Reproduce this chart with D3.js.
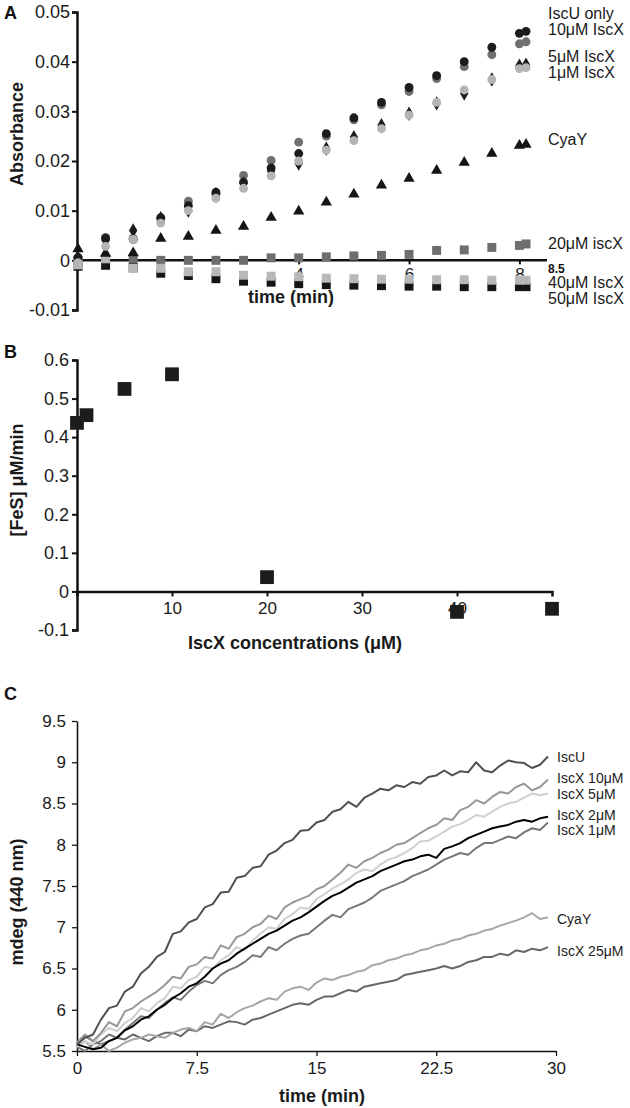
<!DOCTYPE html>
<html><head><meta charset="utf-8">
<script src="https://cdn.jsdelivr.net/npm/d3@7"></script>
<style>
body{margin:0;background:#fff;}
svg{display:block;font-family:"Liberation Sans",Arial,Helvetica,sans-serif;}
</style></head><body><svg id="c" width="630" height="1108"></svg>
<script>
// ---------- Panel A data ----------
const timeA = [0,0.5,1,1.5,2,2.5,3,3.5,4,4.5,5,5.5,6,6.5,7,7.5,8,8.12];
const aIscU  = [0.0006,0.0044,0.0042,0.0086,0.0110,0.0137,0.0157,0.0186,0.0215,0.0255,0.0287,0.0318,0.0348,0.0372,0.0400,0.0429,0.0457,0.0461];
const aX10   = [0.0005,0.0046,0.0044,0.0083,0.0119,0.0133,0.0171,0.0201,0.0238,0.0250,0.0283,0.0313,0.0340,0.0366,0.0390,0.0414,0.0436,0.0440];
const aX5    = [0.0005,0.0040,0.0060,0.0085,0.0100,0.0133,0.0155,0.0180,0.0195,0.0225,0.0248,0.0272,0.0295,0.0316,0.0336,0.0364,0.0392,0.0394];
const aX1    = [-0.0005,0.0028,0.0042,0.0075,0.0100,0.0125,0.0145,0.0170,0.0200,0.0222,0.0241,0.0265,0.0292,0.0318,0.0343,0.0364,0.0386,0.0388];
const aCyaY  = [0.0023,0.0014,0.0015,0.0044,0.0048,0.0060,0.0068,0.0086,0.0099,0.0117,0.0133,0.0151,0.0165,0.0181,0.0197,0.0215,0.0231,0.0233];
const aX20   = [0.0000,0.0002,0.0000,0.0000,0.0000,0.0000,0.0000,0.0005,0.0005,0.0007,0.0009,0.0010,0.0012,0.0020,0.0021,0.0026,0.0030,0.0033];
const aX40   = [-0.0009,0.0003,-0.0016,-0.0016,-0.0023,-0.0023,-0.0030,-0.0032,-0.0033,-0.0036,-0.0037,-0.0038,-0.0038,-0.0039,-0.0039,-0.0040,-0.0040,-0.0040];
const aX50   = [-0.0012,-0.0010,-0.0015,-0.0026,-0.0030,-0.0037,-0.0042,-0.0044,-0.0047,-0.0049,-0.0050,-0.0051,-0.0052,-0.0052,-0.0053,-0.0053,-0.0053,-0.0053];
const ticksAy = [-0.01,0,0.01,0.02,0.03,0.04,0.05];
const ticksAx = [2,4,6,8];

// ---------- Panel B data ----------
const concB = [0,1,5,10,20,40,50];
const rateB = [0.437,0.457,0.525,0.563,0.037,-0.053,-0.045];
const ticksBy = [-0.1,0,0.1,0.2,0.3,0.4,0.5,0.6];
const ticksBx = [10,20,30,40];

// ---------- Panel C data ----------
const timeC = [0,0.5,1,1.5,2,2.5,3,3.5,4,4.5,5,5.5,6,6.5,7,7.5,8,8.5,9,9.5,10,10.5,11,11.5,12,12.5,13,13.5,14,14.5,15,15.5,16,16.5,17,17.5,18,18.5,19,19.5,20,20.5,21,21.5,22,22.5,23,23.5,24,24.5,25,25.5,26,26.5,27,27.5,28,28.5,29,29.5];
const cIscU = [5.58,5.66,5.70,5.88,6.02,6.05,6.22,6.28,6.44,6.52,6.64,6.70,6.92,6.95,7.06,7.10,7.24,7.28,7.42,7.43,7.60,7.62,7.72,7.74,7.88,7.93,8.02,8.06,8.17,8.18,8.27,8.30,8.40,8.43,8.52,8.46,8.57,8.62,8.68,8.66,8.72,8.70,8.76,8.74,8.82,8.84,8.90,8.84,8.89,8.88,9.00,8.90,8.88,8.96,9.02,9.00,8.99,8.93,8.97,9.07];
const cX10  = [5.60,5.70,5.62,5.72,5.85,5.80,5.98,6.02,6.10,6.16,6.22,6.30,6.40,6.38,6.52,6.55,6.64,6.62,6.78,6.74,6.88,6.92,7.00,7.04,7.14,7.10,7.24,7.30,7.34,7.38,7.46,7.50,7.58,7.66,7.76,7.72,7.80,7.84,7.90,7.94,8.00,8.02,8.08,8.14,8.20,8.24,8.32,8.30,8.42,8.46,8.54,8.50,8.58,8.64,8.62,8.70,8.74,8.66,8.70,8.79];
const cX5   = [5.55,5.62,5.58,5.70,5.78,5.74,5.84,5.90,6.02,5.98,6.08,6.14,6.28,6.26,6.36,6.40,6.52,6.50,6.60,6.66,6.76,6.72,6.84,6.92,7.00,6.98,7.10,7.16,7.24,7.22,7.34,7.40,7.47,7.52,7.58,7.66,7.70,7.68,7.76,7.82,7.85,7.90,7.96,8.04,8.05,8.10,8.16,8.22,8.25,8.30,8.36,8.34,8.40,8.46,8.50,8.52,8.57,8.62,8.60,8.62];
const cX2   = [5.58,5.55,5.52,5.54,5.62,5.66,5.75,5.80,5.88,5.92,6.00,6.06,6.14,6.20,6.28,6.32,6.40,6.50,6.56,6.60,6.68,6.74,6.80,6.86,6.92,6.96,7.02,7.08,7.12,7.18,7.25,7.32,7.38,7.42,7.48,7.54,7.58,7.62,7.68,7.72,7.76,7.80,7.82,7.86,7.88,7.84,7.95,7.98,8.02,8.08,8.12,8.16,8.20,8.22,8.24,8.28,8.30,8.28,8.32,8.34];
const cX1   = [5.55,5.50,5.58,5.62,5.70,5.66,5.76,5.84,5.92,5.90,6.00,6.08,6.15,6.12,6.22,6.30,6.35,6.32,6.42,6.48,6.52,6.58,6.66,6.64,6.76,6.72,6.80,6.86,6.90,6.92,7.00,7.08,7.15,7.12,7.22,7.26,7.30,7.36,7.44,7.48,7.52,7.56,7.62,7.66,7.70,7.76,7.82,7.86,7.90,7.88,7.96,8.02,8.02,8.06,8.10,8.08,8.15,8.20,8.18,8.27];
const cCyaY = [5.55,5.62,5.52,5.58,5.50,5.54,5.60,5.64,5.66,5.70,5.68,5.66,5.72,5.76,5.78,5.74,5.85,5.82,5.95,5.90,5.97,6.02,6.05,6.10,6.14,6.12,6.22,6.26,6.28,6.24,6.33,6.38,6.36,6.40,6.42,6.46,6.48,6.54,6.56,6.60,6.62,6.66,6.68,6.72,6.74,6.78,6.80,6.84,6.86,6.90,6.92,6.96,6.98,7.02,7.05,7.08,7.12,7.17,7.10,7.12];
const cX25  = [5.60,5.68,5.62,5.58,5.62,5.66,5.64,5.70,5.66,5.62,5.68,5.72,5.72,5.68,5.76,5.74,5.80,5.78,5.82,5.86,5.85,5.82,5.88,5.90,5.94,5.98,6.02,6.06,6.08,6.06,6.12,6.16,6.16,6.20,6.24,6.22,6.28,6.30,6.32,6.34,6.36,6.42,6.44,6.46,6.48,6.50,6.53,6.50,6.53,6.58,6.60,6.64,6.64,6.68,6.66,6.72,6.70,6.74,6.72,6.76];
const ticksCy = [5.5,6,6.5,7,7.5,8,8.5,9,9.5];
const ticksCx = [0,7.5,15,22.5,30];

// ---------- drawing ----------
const svg = d3.select("#c");
const fmt = d => String(+(+d).toFixed(2));
const FF = '"Liberation Sans",Arial,sans-serif';

function styleAxis(g, w, fs){
  g.attr("font-size",null).attr("font-family",null);
  g.selectAll(".domain").attr("stroke","#111").attr("stroke-width",w);
  g.selectAll(".tick line").attr("stroke","#111").attr("stroke-width",w*0.8);
  g.selectAll(".tick text").attr("fill","#1a1a1a").attr("font-size",fs).attr("font-family",FF);
}
function panelLetter(t,x,y){
  svg.append("text").attr("x",x).attr("y",y).text(t)
    .attr("font-size",18).attr("font-weight","bold").attr("fill","#111");
}
function ylabel(t,x,y){
  svg.append("text").attr("transform",`translate(${x},${y}) rotate(-90)`)
    .attr("text-anchor","middle").text(t)
    .attr("font-size",18).attr("font-weight","bold").attr("fill","#1a1a1a");
}
function xlabel(t,x,y){
  svg.append("text").attr("x",x).attr("y",y).attr("text-anchor","middle").text(t)
    .attr("font-size",18).attr("font-weight","bold").attr("fill","#1a1a1a");
}

// ===== Panel A =====
const xA = d3.scaleLinear().domain([0,8.5]).range([78,547]);
const yA = d3.scaleLinear().domain([-0.01,0.05]).range([310,12]);
panelLetter("A",4,19);
const gAy = svg.append("g").attr("transform",`translate(${xA(0)-1},0)`)
  .call(d3.axisLeft(yA).tickValues(ticksAy).tickFormat(fmt).tickSize(5).tickSizeOuter(5).tickPadding(2));
styleAxis(gAy,2.5,18);
const gAx = svg.append("g").attr("transform",`translate(0,${yA(0)})`)
  .call(d3.axisBottom(xA).tickValues(ticksAx).tickFormat(fmt).tickSize(4).tickSizeOuter(0).tickPadding(4));
styleAxis(gAx,2.5,17);
gAx.select(".domain").attr("d",`M${xA(0)-1},0H${xA(8.5)}`);
ylabel("Absorbance",23,134);
xlabel("time (min)",291,303);

const seriesA = [
  {v:aX20,  sym:d3.symbolSquare,   size:80, fill:"#6e6e6e"},
  {v:aX50,  sym:d3.symbolSquare,   size:80, fill:"#151515"},
  {v:aX40,  sym:d3.symbolSquare,   size:80, fill:"#b8b8b8"},
  {v:aCyaY, sym:d3.symbolTriangle, size:55, fill:"#151515"},
  {v:aX10,  sym:d3.symbolCircle,   size:62, fill:"#707070"},
  {v:aIscU, sym:d3.symbolCircle,   size:62, fill:"#1c1c1c"},
  {v:aX5,   sym:d3.symbolDiamond,  size:60, fill:"#1c1c1c"},
  {v:aX1,   sym:d3.symbolCircle,   size:62, fill:"#b4b4b4"}
];
seriesA.forEach(s=>{
  svg.append("g").selectAll("path").data(timeA.map((t,i)=>[t,s.v[i]])).join("path")
    .attr("transform",d=>`translate(${xA(d[0])},${yA(d[1])})`)
    .attr("d",d3.symbol().type(s.sym).size(s.size)).attr("fill",s.fill);
});
const labA = [["IscU only",19],["10\u03bcM IscX",35],["5\u03bcM IscX",62],["1\u03bcM IscX",78],["CyaY",145],["20\u03bcM iscX",249],["40\u03bcM IscX",288],["50\u03bcM IscX",304]];
labA.forEach(([t,y])=>{
  svg.append("text").attr("x",548).attr("y",y).text(t)
    .attr("font-size",16).attr("fill","#1a1a1a");
});
svg.append("text").attr("x",548).attr("y",273).text("8.5")
  .attr("font-size",12).attr("font-weight","bold").attr("fill","#111");

// ===== Panel B =====
const xB = d3.scaleLinear().domain([0,50]).range([77,552]);
const yB = d3.scaleLinear().domain([-0.1,0.6]).range([630,360]);
panelLetter("B",4,358);
const gBy = svg.append("g").attr("transform",`translate(${xB(0)},0)`)
  .call(d3.axisLeft(yB).tickValues(ticksBy).tickFormat(fmt).tickSize(5).tickSizeOuter(5).tickPadding(3));
styleAxis(gBy,2.5,18);
const gBx = svg.append("g").attr("transform",`translate(0,${yB(0)})`)
  .call(d3.axisBottom(xB).tickValues(ticksBx).tickFormat(fmt).tickSize(5).tickSizeOuter(5).tickPadding(6));
styleAxis(gBx,2.5,17);
ylabel("[FeS] \u03bcM/min",23,480);
xlabel("IscX concentrations (\u03bcM)",295,649);
svg.append("g").selectAll("path").data(concB.map((c,i)=>[c,rateB[i]])).join("path")
  .attr("transform",d=>`translate(${xB(d[0])},${yB(d[1])})`)
  .attr("d",d3.symbol().type(d3.symbolSquare).size(190)).attr("fill","#1c1c1c");

// ===== Panel C =====
const xC = d3.scaleLinear().domain([0,30]).range([77,556]);
const yC = d3.scaleLinear().domain([5.5,9.5]).range([1051,721]);
panelLetter("C",4,700);
const gCy = svg.append("g").attr("transform",`translate(${xC(0)},0)`)
  .call(d3.axisLeft(yC).tickValues(ticksCy).tickFormat(fmt).tickSize(5).tickSizeOuter(0).tickPadding(6));
styleAxis(gCy,1.6,17);
const gCx = svg.append("g").attr("transform",`translate(0,${yC(5.5)})`)
  .call(d3.axisBottom(xC).tickValues(ticksCx).tickFormat(fmt).tickSize(5).tickSizeOuter(0).tickPadding(6));
styleAxis(gCx,1.6,17);
ylabel("mdeg (440 nm)",23,902);
xlabel("time (min)",322,1102);

const seriesC = [
  {v:cX25,  c:"#686868", lab:"IscX 25\u03bcM", ly:951},
  {v:cCyaY, c:"#a6a6a6", lab:"CyaY",          ly:919},
  {v:cX1,   c:"#777777", lab:"IscX 1\u03bcM", ly:830},
  {v:cX5,   c:"#cfcfcf", lab:"IscX 5\u03bcM", ly:794},
  {v:cX10,  c:"#979797", lab:"IscX 10\u03bcM", ly:778},
  {v:cX2,   c:"#000000", lab:"IscX 2\u03bcM", ly:815},
  {v:cIscU, c:"#505050", lab:"IscU",          ly:757}
];
const line = d3.line().x(d=>xC(d[0])).y(d=>yC(d[1]));
seriesC.forEach(s=>{
  svg.append("path").datum(timeC.map((t,i)=>[t,s.v[i]]))
    .attr("d",line).attr("fill","none").attr("stroke",s.c).attr("stroke-width",2)
    .attr("stroke-linejoin","round");
  svg.append("text").attr("x",557).attr("y",s.ly+5).text(s.lab)
    .attr("font-size",14).attr("fill","#222");
});
</script></body></html>
